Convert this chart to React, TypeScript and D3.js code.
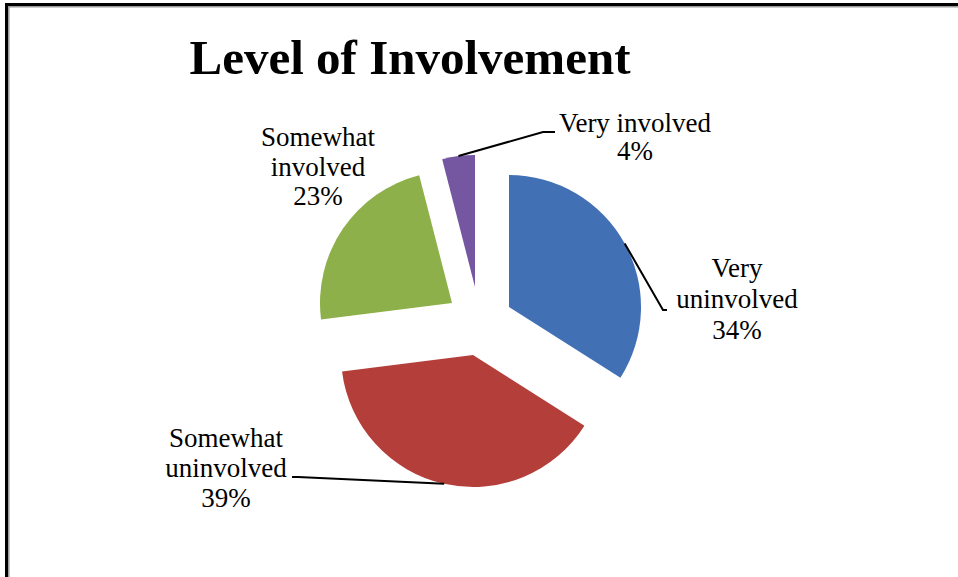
import React from 'react'
import * as d3 from 'd3'

// chart data
const categories = ['Very uninvolved', 'Somewhat uninvolved', 'Somewhat involved', 'Very involved']
const values = [34, 39, 23, 4]
const labelLines = [['Very', 'uninvolved'], ['Somewhat', 'uninvolved'], ['Somewhat', 'involved'], ['Very involved']]
const colors = ['#4170B5', '#B43F3A', '#8DB04A', '#7556A0']

const W = 958
const H = 577
const FONT = '"Liberation Serif", "Times New Roman", serif'

export default function App() {
  const cx = 480
  const cy = 322
  const radius = 132

  // per-slice explosion (each point pulled out separately, like in the original)
  const shift = [[29, -15], [-7, 33], [-28, -19], [-5, -35]]

  // label placement: centre x, first baseline, line gap, leader elbow/end
  const labelPos = [
    { x: 737, y: 277, gap: 31, leader: [[663, 310], [667, 310]] },
    { x: 226, y: 447, gap: 30, leader: [[298, 477], [292, 477]] },
    { x: 318, y: 146, gap: 29.5, leader: null },
    { x: 635, y: 132, gap: 28, leader: [[543, 132], [555, 132]] },
  ]

  const total = d3.sum(values)
  const pie = d3.pie<number>().sort(null).value(d => d)
  const arcs = pie(values)
  const arc = d3.arc<d3.PieArcDatum<number>>().innerRadius(0).outerRadius(radius)
  const edge = d3.arc<d3.PieArcDatum<number>>().innerRadius(radius).outerRadius(radius)

  return (
    <div style={{ position: 'fixed', left: 0, top: 0, width: W, height: H, background: '#fff' }}>
      <svg width={W} height={H} style={{ display: 'block' }}>
        <rect x={0} y={0} width={W} height={H} fill="#fff" />
        <rect x={6.5} y={4.5} width={W + 20} height={H + 20} fill="none" stroke="#000" strokeWidth={3} />
        <path d={`M8.8,${H}V6.8H${W}`} fill="none" stroke="#9a9a9a" strokeWidth={1.5} />

        <text x={410} y={74} textAnchor="middle" fontFamily={FONT} fontWeight="bold" fontSize={49} fill="#000">
          Level of Involvement
        </text>

        {arcs.map((a, i) => {
          const ox = cx + shift[i][0]
          const oy = cy + shift[i][1]
          const [sx, sy] = edge.centroid(a)
          const lp = labelPos[i]
          const pct = Math.round((values[i] / total) * 100) + '%'
          const lines = [...labelLines[i], pct]
          return (
            <g key={categories[i]}>
              <path d={arc(a) || ''} transform={`translate(${ox},${oy})`} fill={colors[i]} />
              {lp.leader && (
                <polyline
                  points={[[ox + sx, oy + sy], ...lp.leader].map(p => p.join(',')).join(' ')}
                  fill="none"
                  stroke="#000"
                  strokeWidth={2}
                />
              )}
              <text textAnchor="middle" fontFamily={FONT} fontSize={27} fill="#000">
                {lines.map((t, j) => (
                  <tspan key={j} x={lp.x} y={lp.y + j * lp.gap}>{t}</tspan>
                ))}
              </text>
            </g>
          )
        })}
      </svg>
    </div>
  )
}
